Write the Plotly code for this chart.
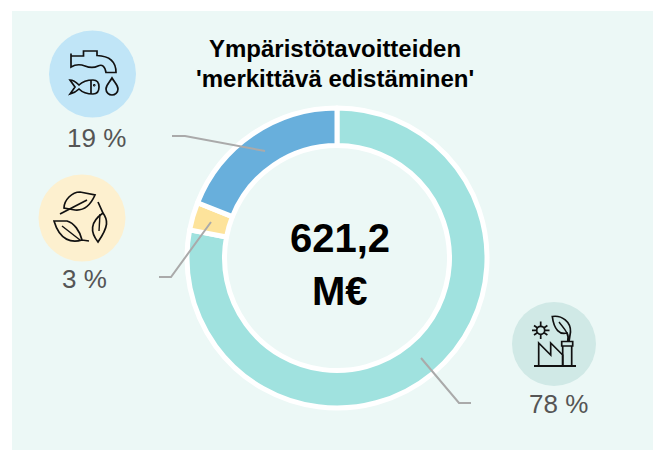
import plotly.graph_objects as go

W, H = 653, 450
categories = ["Ilmastonmuutoksen hillintä", "Kiertotalous", "Vesi ja meri"]
values = [78, 3, 19]
percent_labels = ["78 %", "3 %", "19 %"]
slice_colors = ["#a0e2df", "#fde39b", "#68afdc"]
title_lines = ["Ympäristötavoitteiden", "'merkittävä edistäminen'"]
center_lines = ["621,2", "M€"]

CX, CY, R = 337, 258, 150
fig = go.Figure()
fig.add_trace(go.Pie(
    labels=categories, values=values, sort=False, direction="clockwise", rotation=0,
    hole=0.75, textinfo="none", hoverinfo="skip", showlegend=False,
    marker=dict(colors=slice_colors, line=dict(color="white", width=5)),
    domain=dict(x=[(CX - R) / W, (CX + R) / W], y=[1 - (CY + R) / H, 1 - (CY - R) / H]),
))

shapes = [dict(type="rect", xref="x", yref="y", x0=12, y0=11, x1=653, y1=450,
               fillcolor="#ecf8f6", line_width=0, layer="below")]

def circle(cx, cy, r, color):
    shapes.append(dict(type="circle", xref="x", yref="y", x0=cx - r, x1=cx + r, y0=cy - r, y1=cy + r,
                       fillcolor=color, line_width=0, layer="below"))

def stroke(path, width=1.7, color="#111111", fill="rgba(0,0,0,0)"):
    shapes.append(dict(type="path", xref="x", yref="y", path=path, fillcolor=fill,
                       line=dict(color=color, width=width)))

circle(92.5, 74, 43.5, "#c0e5f7")
circle(82, 218, 43.5, "#fdf0cf")
circle(554, 344, 42, "#d0e9e6")

# Leader lines
stroke("M172,136 L185,136 L265,151", 2, "#aaaaaa")
stroke("M159,277 L171,277 L211,222", 2, "#aaaaaa")
stroke("M471,403 L459,403 L421,358", 2, "#aaaaaa")

# Tap, fish and drop icon
stroke("M71,53.5 L71,67 C76,64 80,64 85,66 C90,68 94,68 98,66 C102,64 105,66 106,72.5 L116,72.5 "
       "C116,62 110,56 97,55.5 L97,51 L83.5,51 L83.5,56 L76,56 L71,56")
stroke("M70,80 C74,80 77,83 79,85 C84,80 89,80 93,80 C97,80 99,83 99,87 C99,91 97,94 93,94 "
       "C87,94 82,92 79,89 C77,91 74,93 70,94 L75,87 Z")
stroke("M91,80 L91,94")
stroke("M93.5,84.5 L95,84.5 L95,86 L93.5,86 Z", 1)
stroke("M112,78 C115,83 118,85 118,89 C118,92.5 115,95 112,95 C109,95 106,92.5 106,89 C106,85 109,83 112,78 Z")

# Leaves icon
stroke("M60,214 L87,200")
stroke("M64,208 C64,200 72,192 80,192 L95,195 C91,204 85,211 75,210 Z")
stroke("M98,202 L103,213 C108,220 109,226 98,242 C90,232 90,222 103,213")
stroke("M100,214 L99,231", 1.4)
stroke("M89,241 L82,240 C72,243 60,241 54,221 L67,221 C74,223 80,231 82,240")
stroke("M62,226 L80,240", 1.4)

# Factory, sun and leaf icon
stroke("M534,366 L576,366", 2.2)
stroke("M538.7,366 L538.7,343 L550.7,355 L550.7,343 L562.7,355 L562.7,366")
stroke("M562.7,346 L562.7,366 M571.7,346 L571.7,366")
stroke("M561.7,341.5 L572.7,341.5 L572.7,346 L561.7,346 Z")
stroke("M567.7,341.5 C568.5,338 568,335 567,333 C560,335 554,330 552.3,316.5 C562,315 571,322 570.5,332 "
       "L569,341.5")
stroke("M559,322 C562,326 565,329 567,333", 1.4)
stroke("M544.7,330.3 C544.7,332.5 542.9,334.3 540.7,334.3 C538.5,334.3 536.7,332.5 536.7,330.3 "
       "C536.7,328.1 538.5,326.3 540.7,326.3 C542.9,326.3 544.7,328.1 544.7,330.3 Z")
stroke("M540.7,321.5 L540.7,326 M540.7,334.5 L540.7,339 M532,330.3 L536.5,330.3 M545,330.3 L549.5,330.3 "
       "M534,325.5 L537.3,327.8 M544.1,332.8 L547.4,335 M534,335 L537.3,332.8 M544.1,327.8 L547.4,325.5")

FONT = "Liberation Sans, Arial, sans-serif"
def text(x, y, s, size, color, bold=False):
    return dict(xref="x", yref="y", x=x, y=y, text=f"<b>{s}</b>" if bold else s, showarrow=False,
                xanchor="center", yanchor="middle", font=dict(family=FONT, size=size, color=color))

annotations = [
    text(335, 48, title_lines[0], 24, "#000000", True),
    text(335, 78, title_lines[1], 24, "#000000", True),
    text(339.5, 238, center_lines[0], 40, "#000000", True),
    text(339.5, 291, center_lines[1], 40, "#000000", True),
    text(558, 404, percent_labels[0], 26, "#555555"),
    text(84, 279, percent_labels[1], 26, "#555555"),
    text(96, 138, percent_labels[2], 26, "#555555"),
]

fig.update_layout(
    width=W, height=H, margin=dict(l=0, r=0, t=0, b=0), paper_bgcolor="white", plot_bgcolor="rgba(0,0,0,0)",
    xaxis=dict(range=[0, W], visible=False, fixedrange=True),
    yaxis=dict(range=[H, 0], visible=False, fixedrange=True),
    shapes=shapes, annotations=annotations,
)
fig.write_html("out.html", config=dict(displayModeBar=False), default_width=W, default_height=H,
               post_script="document.body.style.margin='0';document.documentElement.style.overflow='hidden';")
